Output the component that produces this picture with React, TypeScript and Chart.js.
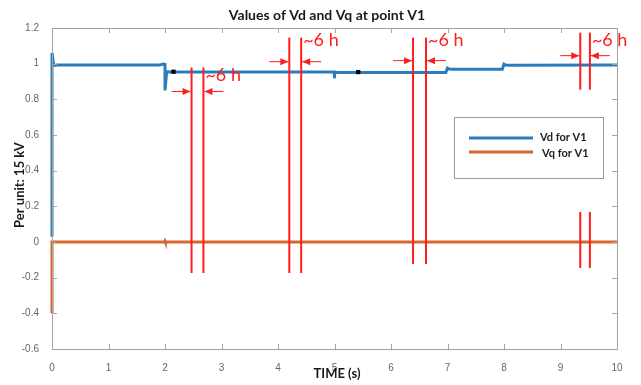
import React, { useEffect, useRef } from 'react';
import { Chart, registerables } from 'chart.js';
Chart.register(...registerables);

// ---- data ----
const vdTime = [0, 0, 0.03, 0.1, 1.9, 1.97, 2.0, 2.0, 2.03, 2.1, 4.995, 5.0, 5.0, 5.005, 6.97, 7.0, 7.03, 7.1, 7.97, 8.0, 8.03, 8.1, 10];
const vdValues = [0.03, 1.06, 0.99, 0.992, 0.992, 0.998, 0.996, 0.85, 0.955, 0.953, 0.953, 0.953, 0.918, 0.951, 0.951, 0.975, 0.97, 0.969, 0.969, 0.997, 0.992, 0.991, 0.993];
const vqTime = [0, 0, 0.03, 1.995, 2.0, 2.005, 10];
const vqValues = [-0.4, 0, 0, 0, 0.004, 0, 0];
const markerTime = [2.15, 5.42];
const markerValues = [0.955, 0.953];

const xTicks = [0, 1, 2, 3, 4, 5, 6, 7, 8, 9, 10];
const yTicks = [-0.6, -0.4, -0.2, 0, 0.2, 0.4, 0.6, 0.8, 1, 1.2];

// annotation pairs (red vertical lines with arrows)
const pairLeft = [2.47, 4.2, 6.39, 9.35];
const pairRight = [2.68, 4.41, 6.62, 9.52];
const pairTop = [0.978, 1.146, 1.146, 1.174];
const pairBottom = [-0.174, -0.174, -0.124, -0.146];
const gapTop: (number | null)[] = [null, null, null, 0.854];
const gapBottom: (number | null)[] = [null, null, null, 0.169];
const arrowLevel = [0.844, 1.011, 1.017, 1.045];
const labelLevel = [0.933, 1.129, 1.129, 1.129];
const labelText = ['~6 h', '~6 h', '~6 h', '~6 h'];

const titleText = 'Values of Vd and Vq at point V1';
const xTitle = 'TIME (s)';
const yTitle = 'Per unit: 15 kV';
const seriesNames = ['Vd for V1', 'Vq for V1'];

const BLUE = '#2b7cbd';
const ORANGE = '#d4682f';
const RED = '#ff1c1c';

const overlay = {
  id: 'overlay',
  afterDatasetsDraw(chart: any) {
    const { ctx, chartArea: a, scales } = chart;
    const x = scales.x;
    const y = scales.y;
    ctx.save();
    // frame
    ctx.strokeStyle = '#a3a3a3';
    ctx.lineWidth = 1;
    ctx.strokeRect(Math.round(a.left) + 0.5, Math.round(a.top) + 0.5, Math.round(a.right - a.left), Math.round(a.bottom - a.top));
    const seg = (x1: number, y1: number, x2: number, y2: number) => {
      ctx.beginPath();
      ctx.moveTo(x1, y1);
      ctx.lineTo(x2, y2);
      ctx.stroke();
    };
    xTicks.forEach((v) => {
      const px = Math.round(x.getPixelForValue(v)) + 0.5;
      seg(px, a.bottom, px, a.bottom - 5);
      seg(px, a.top, px, a.top + 5);
    });
    yTicks.forEach((v) => {
      const py = Math.round(y.getPixelForValue(v)) + 0.5;
      seg(a.left, py, a.left + 5, py);
      seg(a.right, py, a.right - 5, py);
    });

    // red annotations
    ctx.strokeStyle = RED;
    ctx.fillStyle = RED;
    const arrow = (fx: number, tx: number, py: number) => {
      ctx.lineWidth = 1;
      seg(fx, py, tx, py);
      const d = Math.sign(tx - fx);
      ctx.beginPath();
      ctx.moveTo(tx, py);
      ctx.lineTo(tx - d * 8, py - 3.5);
      ctx.lineTo(tx - d * 8, py + 3.5);
      ctx.closePath();
      ctx.fill();
    };
    pairLeft.forEach((lv, i) => {
      const xl = x.getPixelForValue(lv);
      const xr = x.getPixelForValue(pairRight[i]);
      const yt = y.getPixelForValue(pairTop[i]);
      const yb = y.getPixelForValue(pairBottom[i]);
      ctx.lineWidth = 2;
      [xl, xr].forEach((px) => {
        const g1 = gapTop[i];
        const g2 = gapBottom[i];
        if (g1 !== null && g2 !== null) {
          seg(px, yt, px, y.getPixelForValue(g1));
          seg(px, y.getPixelForValue(g2), px, yb);
        } else {
          seg(px, yt, px, yb);
        }
      });
      const ay = y.getPixelForValue(arrowLevel[i]);
      arrow(xl - 20, xl - 1, ay);
      arrow(xr + 20, xr + 1, ay);
      ctx.font = '18px Lato';
      ctx.textAlign = 'left';
      ctx.textBaseline = 'middle';
      ctx.fillText(labelText[i], xr + 2, y.getPixelForValue(labelLevel[i]));
    });

    // legend
    ctx.fillStyle = '#ffffff';
    ctx.fillRect(454, 117, 149, 61);
    ctx.strokeStyle = '#9a9a9a';
    ctx.lineWidth = 1;
    ctx.strokeRect(454.5, 117.5, 149, 61);
    ctx.lineWidth = 3;
    ctx.strokeStyle = BLUE;
    seg(469, 138, 533, 138);
    ctx.strokeStyle = ORANGE;
    seg(469, 152, 533, 152);
    ctx.fillStyle = '#222';
    ctx.font = 'bold 11px Lato';
    ctx.textAlign = 'left';
    ctx.textBaseline = 'middle';
    ctx.fillText(seriesNames[0], 540, 137);
    ctx.fillText(seriesNames[1], 542, 153);

    // titles
    ctx.fillStyle = '#1a1a1a';
    ctx.textAlign = 'center';
    ctx.font = 'bold 14px Lato';
    ctx.fillText(titleText, 327, 15);
    ctx.font = 'bold 13px Lato';
    ctx.fillText(xTitle, 337, 374);
    ctx.translate(20, 185);
    ctx.rotate(-Math.PI / 2);
    ctx.fillText(yTitle, 0, 0);
    ctx.restore();
  },
};

export default function App() {
  const ref = useRef<HTMLCanvasElement | null>(null);
  useEffect(() => {
    if (!ref.current) return;
    const tickFont = { family: '"Liberation Sans", Arial, sans-serif', size: 10 };
    const chart = new Chart(ref.current, {
      type: 'line',
      data: {
        datasets: [
          {
            label: seriesNames[1],
            data: vqTime.map((t, i) => ({ x: t, y: vqValues[i] })),
            borderColor: ORANGE,
            borderWidth: 3,
            pointRadius: 0,
            tension: 0,
            clip: false,
            order: 2,
          },
          {
            label: seriesNames[0],
            data: vdTime.map((t, i) => ({ x: t, y: vdValues[i] })),
            borderColor: BLUE,
            borderWidth: 3,
            pointRadius: 0,
            tension: 0,
            clip: false,
            order: 1,
          },
          {
            label: 'markers',
            data: markerTime.map((t, i) => ({ x: t, y: markerValues[i] })),
            showLine: false,
            pointStyle: 'rect',
            pointRadius: 3,
            backgroundColor: '#000',
            borderColor: '#000',
            borderWidth: 0,
            order: 0,
          },
        ],
      },
      options: {
        animation: false,
        responsive: false,
        maintainAspectRatio: false,
        layout: { padding: { top: 28, right: 24, left: 0, bottom: 0 } },
        plugins: { legend: { display: false }, title: { display: false }, tooltip: { enabled: false } },
        scales: {
          x: {
            type: 'linear',
            min: 0,
            max: 10,
            afterBuildTicks: (s: any) => {
              s.ticks = xTicks.map((value) => ({ value }));
            },
            afterFit: (s: any) => {
              s.height = 36;
            },
            grid: { display: false },
            border: { display: false },
            ticks: { font: tickFont, color: '#666', padding: 5, maxRotation: 0, autoSkip: false, callback: (v: any) => String(v) },
          },
          y: {
            type: 'linear',
            min: -0.6,
            max: 1.2,
            afterBuildTicks: (s: any) => {
              s.ticks = yTicks.map((value) => ({ value }));
            },
            afterFit: (s: any) => {
              s.width = 52;
            },
            grid: { display: false },
            border: { display: false },
            ticks: { font: tickFont, color: '#666', padding: 5, autoSkip: false, callback: (v: any) => String(v) },
          },
        },
      },
      plugins: [overlay],
    } as any);
    return () => chart.destroy();
  }, []);
  return (
    <div style={{ position: 'fixed', left: 0, top: 0, width: 641, height: 385, background: '#fff' }}>
      <canvas ref={ref} width={641} height={385} />
    </div>
  );
}
